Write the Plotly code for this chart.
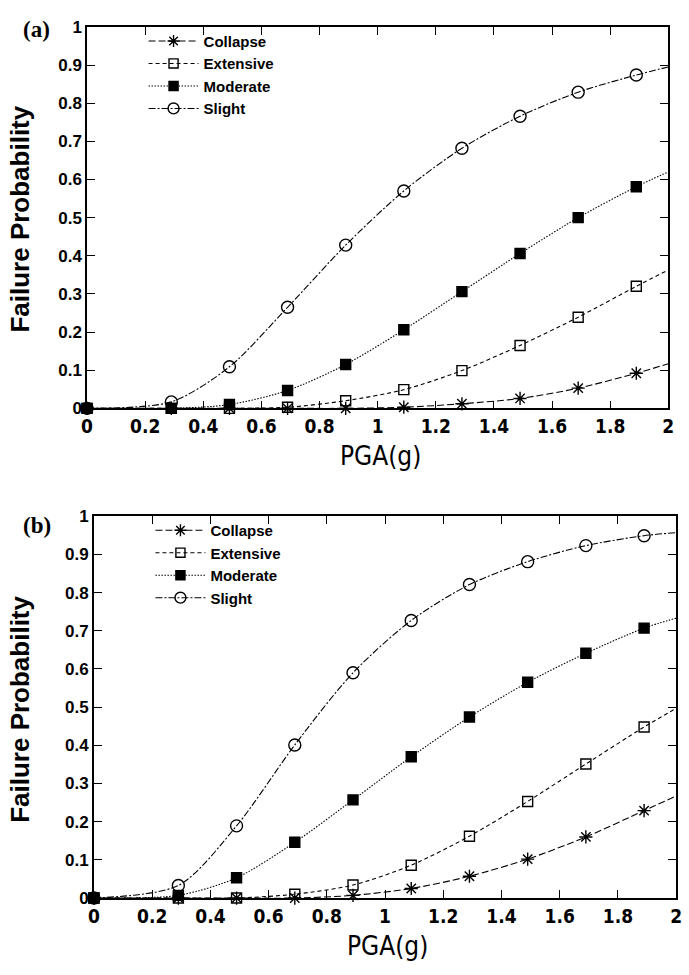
import plotly.graph_objects as go

# ---------------- data ----------------
pga = [0, 0.29, 0.49, 0.69, 0.89, 1.09, 1.29, 1.49, 1.69, 1.89, 2.0]
has_marker = [1, 1, 1, 1, 1, 1, 1, 1, 1, 1, 0]
states = ["Collapse", "Extensive", "Moderate", "Slight"]

a_collapse = [0, 0, 0, 0, 0, 0.003, 0.012, 0.026, 0.053, 0.092, 0.117]
a_extensive = [0, 0, 0, 0.003, 0.020, 0.049, 0.099, 0.165, 0.239, 0.320, 0.363]
a_moderate = [0, 0, 0.010, 0.047, 0.115, 0.206, 0.306, 0.406, 0.500, 0.581, 0.620]
a_slight = [0, 0.017, 0.109, 0.265, 0.428, 0.570, 0.682, 0.766, 0.829, 0.874, 0.895]

b_collapse = [0, 0, 0, 0, 0.007, 0.025, 0.057, 0.102, 0.160, 0.229, 0.267]
b_extensive = [0, 0, 0, 0.010, 0.034, 0.086, 0.162, 0.253, 0.351, 0.448, 0.497]
b_moderate = [0, 0.007, 0.053, 0.146, 0.257, 0.370, 0.474, 0.565, 0.641, 0.707, 0.733]
b_slight = [0, 0.033, 0.189, 0.401, 0.590, 0.727, 0.821, 0.881, 0.923, 0.949, 0.957]

panel_a = [a_collapse, a_extensive, a_moderate, a_slight]
panel_b = [b_collapse, b_extensive, b_moderate, b_slight]

# ---------------- styles ----------------
W, H = 689, 975
styles = {
    "Collapse": dict(symbol="asterisk-open", size=11, dash="7px,3px"),
    "Extensive": dict(symbol="square-open", size=10, dash="4px,3px"),
    "Moderate": dict(symbol="square", size=10, dash="1.5px,1.5px"),
    "Slight": dict(symbol="circle-open", size=12, dash="7px,2px,2px,2px"),
}
ink = "#000000"
bold = "Liberation Sans, Arial, sans-serif"
narrow = "Liberation Sans Narrow, DejaVu Sans Condensed, Arial Narrow, sans-serif"

fig = go.Figure()

def add_panel(series, xa, ya, leg):
    for name, ys in zip(states, series):
        st = styles[name]
        fig.add_trace(go.Scatter(
            x=pga, y=ys, name=name, mode="lines+markers",
            xaxis=xa, yaxis=ya, legend=leg, cliponaxis=False,
            line=dict(color=ink, width=1.1, dash=st["dash"], shape="spline", smoothing=0.8),
            marker=dict(symbol=st["symbol"], color=ink, opacity=1,
                        size=[st["size"] * m for m in has_marker],
                        line=dict(color=ink, width=1.4)),
        ))

add_panel(panel_a, "x", "y", "legend")
add_panel(panel_b, "x2", "y2", "legend2")

def px_x(p):
    return p / W

def px_y(p):
    return 1 - p / H

xcommon = dict(range=[0, 2], dtick=0.2, tick0=0, ticks="inside", ticklen=8, tickwidth=1.2,
               tickcolor=ink, showline=True, linecolor=ink, linewidth=1.6, mirror="ticks",
               showgrid=False, zeroline=False,
               tickfont=dict(family=narrow, size=19, color=ink, weight="bold"))
ycommon = dict(range=[0, 1], dtick=0.1, tick0=0, ticks="inside", ticklen=8, tickwidth=1.2,
               tickcolor=ink, showline=True, linecolor=ink, linewidth=1.6, mirror="ticks",
               showgrid=False, zeroline=False,
               tickfont=dict(family=bold, size=17, color=ink, weight="bold"))

legend_common = dict(xanchor="left", yanchor="top", bgcolor="rgba(0,0,0,0)", itemwidth=50,
                     font=dict(family=bold, size=15, color=ink, weight="bold"), tracegroupgap=0)

fig.update_layout(
    width=W, height=H, autosize=False,
    margin=dict(l=0, r=0, t=0, b=0),
    paper_bgcolor="white", plot_bgcolor="white",
    xaxis=dict(domain=[px_x(82.5), px_x(674)], anchor="y", **xcommon),
    yaxis=dict(domain=[px_y(407.3), px_y(18.3)], anchor="x", **ycommon),
    xaxis2=dict(domain=[px_x(89.5), px_x(682)], anchor="y2", **xcommon),
    yaxis2=dict(domain=[px_y(906.7), px_y(517.3)], anchor="x2", **ycommon),
    legend=dict(x=px_x(140), y=px_y(16), **legend_common),
    legend2=dict(x=px_x(147), y=px_y(515), **legend_common),
)

annots = [
    dict(text="(a)", x=px_x(15), y=px_y(21), font=dict(family="Liberation Serif, Times New Roman, serif", size=23, color=ink, weight="bold"), xanchor="left"),
    dict(text="(b)", x=px_x(15), y=px_y(527), font=dict(family="Liberation Serif, Times New Roman, serif", size=23, color=ink, weight="bold"), xanchor="left"),
    dict(text="Failure Probability", x=px_x(14), y=px_y(214), textangle=-90, font=dict(family=bold, size=26, color=ink, weight="bold"), xanchor="center"),
    dict(text="Failure Probability", x=px_x(14), y=px_y(714), textangle=-90, font=dict(family=bold, size=26, color=ink, weight="bold"), xanchor="center"),
    dict(text="PGA(g)", x=px_x(381), y=px_y(456), font=dict(family=narrow, size=26, color=ink), xanchor="center"),
    dict(text="PGA(g)", x=px_x(388), y=px_y(956), font=dict(family=narrow, size=26, color=ink), xanchor="center"),
]
for a in annots:
    fig.add_annotation(xref="paper", yref="paper", showarrow=False, yanchor="middle", **a)

fig.write_html("out.html")
